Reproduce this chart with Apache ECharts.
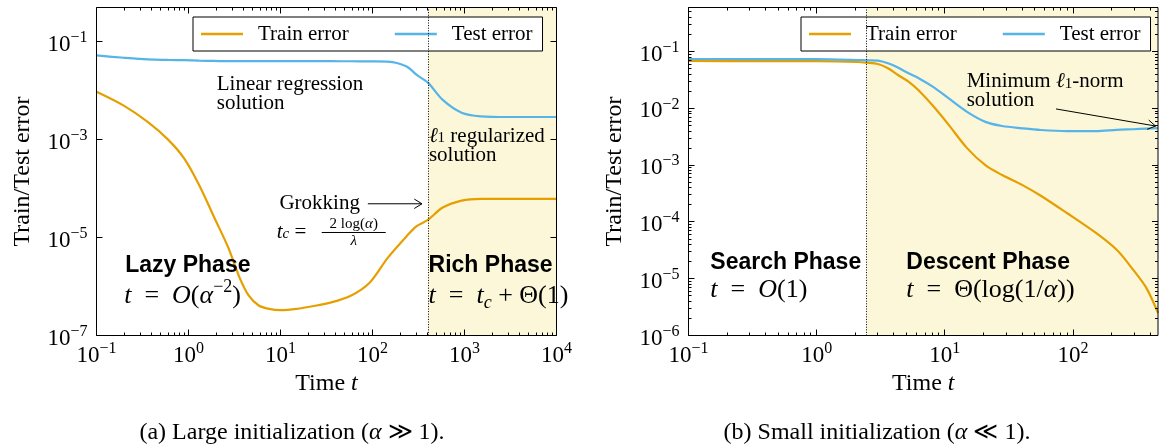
<!DOCTYPE html>
<html>
<head>
<meta charset="utf-8">
<script src="https://cdn.jsdelivr.net/npm/echarts@6/dist/echarts.min.js"></script>
<style>
  html, body { margin: 0; padding: 0; background: #fff; }
  #chart { width: 1161px; height: 444px; }
</style>
</head>
<body>
<div id="chart"></div>
<script>
// ---- (a) large initialization: time, train error, test error ----
const largeTime  = [0.1, 0.2, 0.36, 0.6, 0.9, 1.3, 1.9, 2.7, 3.6, 4.5, 5.8, 7.5, 10, 15, 23, 35, 58, 93, 147, 235, 300, 400, 580, 930, 1500, 3000, 10000];
const largeTrain = [9.5e-3, 4.9e-3, 2.3e-3, 1.0e-3, 4.1e-4, 1.2e-4, 2.6e-5, 6.3e-6, 1.5e-6, 6.6e-7, 4.1e-7, 3.5e-7, 3.3e-7, 3.5e-7, 4.0e-7, 4.7e-7, 6.5e-7, 1.2e-6, 3.9e-6, 1.07e-5, 1.7e-5, 2.3e-5, 4.1e-5, 5.7e-5, 6.2e-5, 6.2e-5, 6.2e-5];
const largeTest  = [0.0525, 0.047, 0.0435, 0.0425, 0.042, 0.041, 0.0405, 0.040, 0.040, 0.040, 0.040, 0.040, 0.040, 0.040, 0.040, 0.040, 0.0399, 0.0397, 0.0394, 0.0313, 0.0212, 0.0146, 0.0065, 0.00356, 0.0030, 0.0029, 0.0029];

// ---- (b) small initialization ----
const smallTime  = [0.1, 0.3, 1, 2.1, 2.44, 3.0, 3.6, 4.3, 5.2, 6.2, 8.1, 10.6, 14.9, 20.7, 28, 40, 56, 89.5, 151, 220, 295, 373, 460];
const smallTrain = [0.0685, 0.0683, 0.068, 0.0658, 0.064, 0.0607, 0.051, 0.0388, 0.0296, 0.0211, 0.011, 0.0053, 0.002, 1.0e-3, 6.7e-4, 4.5e-4, 2.9e-4, 1.44e-4, 6.4e-5, 3.2e-5, 1.43e-5, 6.9e-6, 2.5e-6];
const smallTest  = [0.0743, 0.0742, 0.0738, 0.0714, 0.0705, 0.0694, 0.0624, 0.0526, 0.0416, 0.0344, 0.0239, 0.0153, 0.0087, 0.0058, 0.0049, 0.00447, 0.00417, 0.0040, 0.0040, 0.0042, 0.0043, 0.0044, 0.0045];

const seriesNames = ['Train error', 'Test error'];
const seriesColors = ['#E69F00', '#56B4E9'];

// axis extents [min, max] for each panel
const largeXRange = [0.1, 1e4];
const largeYRange = [1e-7, 0.5];
const smallXRange = [0.1, 460];
const smallYRange = [1e-6, 0.6];

// phase boundary (start of shaded region) for each panel
const phaseStart = [402, 2.44];

// decade exponents carrying a major tick
const largeXMajor = [-1, 0, 1, 2, 3, 4];
const largeYMajor = [-7, -5, -3, -1];
const smallXMajor = [-1, 0, 1, 2];
const smallYMajor = [-6, -5, -4, -3, -2, -1];
const minorMultipliers = [2, 3, 4, 5, 6, 7, 8, 9];

const captions = ['(a) Large initialization ({i|α} ≫ 1).', '(b) Small initialization ({i|α} ≪ 1).'];

const SERIF = '"Liberation Serif", "Times New Roman", serif';
const SANS = '"Liberation Sans", Arial, sans-serif';
const SHADE = '#FBF7D8';
const EQ = '\u2002=\u2002';

const pairs = (xs, ys) => xs.map((x, i) => [x, ys[i]]);

// math-style rich text tokens for a given base size
function mathRich(size) {
  const lh = Math.round(size * 1.3);
  return {
    r:   { fontFamily: SERIF, fontSize: size, lineHeight: lh, verticalAlign: 'middle', fill: '#000', color: '#000' },
    i:   { fontFamily: SERIF, fontStyle: 'italic', fontSize: size, lineHeight: lh, verticalAlign: 'middle', fill: '#000', color: '#000' },
    sup: { fontFamily: SERIF, fontSize: Math.round(size * 0.7), lineHeight: Math.round(size * 0.6), verticalAlign: 'top', fill: '#000', color: '#000' },
    sub: { fontFamily: SERIF, fontStyle: 'italic', fontSize: Math.round(size * 0.7), lineHeight: Math.round(size * 0.85), verticalAlign: 'bottom', fill: '#000', color: '#000' },
    subr:{ fontFamily: SERIF, fontSize: Math.round(size * 0.7), lineHeight: Math.round(size * 0.85), verticalAlign: 'bottom', fill: '#000', color: '#000' }
  };
}

// 10^k tick labels; other ticks stay blank
function powerLabel(keep) {
  return function (v) {
    const e = Math.log10(v), k = Math.round(e);
    if (Math.abs(e - k) > 1e-6 || !keep(k)) return '';
    return '{b|10}{s|' + (k < 0 ? '\u2212' + (-k) : String(k)) + '}';
  };
}
const tickLabelRich = {
  b: { fontFamily: SERIF, fontSize: 23, lineHeight: 30, verticalAlign: 'middle', color: '#000' },
  s: { fontFamily: SERIF, fontSize: 16, lineHeight: 14, verticalAlign: 'top', color: '#000' }
};

function xAxisFor(grid, range) {
  return {
    type: 'log', logBase: 10, gridIndex: grid, min: range[0], max: range[1],
    axisLine: { show: false }, axisTick: { show: false }, splitLine: { show: false },
    axisLabel: { formatter: powerLabel(() => true), rich: tickLabelRich, margin: 5, color: '#000' },
    name: 'Time {i|t}', nameLocation: 'middle', nameGap: 33,
    nameTextStyle: { fontFamily: SERIF, fontSize: 24, color: '#000',
      rich: { i: { fontFamily: SERIF, fontStyle: 'italic', fontSize: 24, color: '#000' } } }
  };
}
function yAxisFor(grid, range, keep) {
  return {
    type: 'log', logBase: 10, gridIndex: grid, min: range[0], max: range[1],
    axisLine: { show: false }, axisTick: { show: false }, splitLine: { show: false },
    axisLabel: { formatter: powerLabel(keep), rich: tickLabelRich, margin: 9, color: '#000', padding: [6, 0, 0, 0] },
    name: 'Train/Test error', nameLocation: 'middle', nameGap: 62,
    nameTextStyle: { fontFamily: SERIF, fontSize: 24, color: '#000' }
  };
}

// tick marks drawn inward on all four sides of a panel
function tickData(xMajor, yMajor, xRange, yRange, yMinor) {
  const data = [];
  const inRange = (v, r) => v >= r[0] * 0.999 && v <= r[1] * 1.001;
  xMajor.forEach(k => {
    const v = Math.pow(10, k);
    if (inRange(v, xRange)) data.push([v, yRange[0], 0, 6]);
    minorMultipliers.forEach(m => { const w = m * v; if (inRange(w, xRange)) data.push([w, yRange[0], 0, 3]); });
  });
  yMajor.forEach(k => {
    const v = Math.pow(10, k);
    if (inRange(v, yRange)) data.push([xRange[0], v, 1, 6]);
    if (yMinor) minorMultipliers.forEach(m => { const w = m * v; if (inRange(w, yRange)) data.push([xRange[0], w, 1, 3]); });
  });
  return data;
}
function renderTick(params, api) {
  const cs = params.coordSys;
  const p = api.coord([api.value(0), api.value(1)]);
  const len = api.value(3);
  const style = { stroke: '#000', lineWidth: 1 };
  if (api.value(2) === 0) {
    const x = Math.floor(p[0]) + 0.5, yb = cs.y + cs.height, yt = cs.y;
    return { type: 'group', children: [
      { type: 'line', shape: { x1: x, y1: yb, x2: x, y2: yb - len }, style },
      { type: 'line', shape: { x1: x, y1: yt, x2: x, y2: yt + len }, style } ] };
  }
  const y = Math.floor(p[1]) + 0.5, xl = cs.x, xr = cs.x + cs.width;
  return { type: 'group', children: [
    { type: 'line', shape: { x1: xl, y1: y, x2: xl + len, y2: y }, style },
    { type: 'line', shape: { x1: xr, y1: y, x2: xr - len, y2: y }, style } ] };
}

function lineSeries(grid, idx, xs, ys, extra) {
  return Object.assign({
    name: seriesNames[idx], type: 'line', xAxisIndex: grid, yAxisIndex: grid,
    data: pairs(xs, ys), symbol: 'none', showSymbol: false,
    smooth: 0.3, z: 3 + idx,
    lineStyle: { color: seriesColors[idx], width: 2.2 },
    itemStyle: { color: seriesColors[idx] }
  }, extra || {});
}
function phaseMarks(grid, xMax) {
  return {
    markArea: { silent: true, itemStyle: { color: SHADE }, data: [[{ xAxis: phaseStart[grid] }, { xAxis: xMax }]] },
    markLine: { silent: true, symbol: 'none', label: { show: false },
      lineStyle: { color: '#000', width: 1, type: [1, 1.6] }, data: [{ xAxis: phaseStart[grid] }] }
  };
}

function legendAt(left) {
  return {
    left: left, top: 17, orient: 'horizontal', selectedMode: false,
    data: seriesNames, icon: 'rect', itemWidth: 42, itemHeight: 2.5, itemGap: 46,
    padding: [6, 10, 6, 8], borderColor: '#000', borderWidth: 1, borderRadius: 0,
    backgroundColor: '#fff',
    textStyle: { fontFamily: SERIF, fontSize: 21, lineHeight: 22, color: '#000', padding: [0, 0, 0, 10] }
  };
}

const chart = echarts.init(document.getElementById('chart'), null, { renderer: 'canvas' });
chart.setOption({
  animation: false,
  backgroundColor: '#fff',
  grid: [
    { left: 96.5, top: 7.5, width: 460, height: 328, show: true, borderColor: '#000', borderWidth: 1, backgroundColor: 'transparent', z: 10 },
    { left: 688.5, top: 7.5, width: 473, height: 328, show: true, borderColor: '#000', borderWidth: 1, backgroundColor: 'transparent', z: 10 }
  ],
  legend: [legendAt(193), legendAt(801)],
  xAxis: [xAxisFor(0, largeXRange), xAxisFor(1, smallXRange)],
  yAxis: [yAxisFor(0, largeYRange, k => Math.abs(k) % 2 === 1), yAxisFor(1, smallYRange, () => true)],
  series: [
    lineSeries(0, 0, largeTime, largeTrain, phaseMarks(0, largeXRange[1])),
    lineSeries(0, 1, largeTime, largeTest),
    lineSeries(1, 0, smallTime, smallTrain, phaseMarks(1, smallXRange[1])),
    lineSeries(1, 1, smallTime, smallTest),
    { type: 'custom', coordinateSystem: 'cartesian2d', xAxisIndex: 0, yAxisIndex: 0, silent: true, clip: false, z: 11,
      encode: { x: 0, y: 1 }, data: tickData(largeXMajor, largeYMajor, largeXRange, largeYRange, false), renderItem: renderTick },
    { type: 'custom', coordinateSystem: 'cartesian2d', xAxisIndex: 1, yAxisIndex: 1, silent: true, clip: false, z: 11,
      encode: { x: 0, y: 1 }, data: tickData(smallXMajor, smallYMajor, smallXRange, smallYRange, true), renderItem: renderTick }
  ]
});

// ---- annotations, anchored in data coordinates ----
const px = (grid, t, e) => chart.convertToPixel({ gridIndex: grid }, [t, e]);

function label(p, text, opts) {
  const o = opts || {};
  return {
    type: 'text', x: p[0], y: p[1], z: 20, silent: true,
    style: {
      text: text, rich: o.rich, fill: '#000',
      font: o.font || ('21px ' + SERIF), lineHeight: o.lineHeight,
      align: o.align || 'left', textAlign: o.align || 'left',
      verticalAlign: o.valign || 'middle', textVerticalAlign: o.valign || 'middle'
    }
  };
}
function arrow(p1, p2) {
  const ang = Math.atan2(p2[1] - p1[1], p2[0] - p1[0]);
  const L = 9, a = 0.55;
  const h1 = [p2[0] - L * Math.cos(ang - a), p2[1] - L * Math.sin(ang - a)];
  const h2 = [p2[0] - L * Math.cos(ang + a), p2[1] - L * Math.sin(ang + a)];
  const style = { stroke: '#000', lineWidth: 1, fill: null };
  return [
    { type: 'line', z: 20, silent: true, shape: { x1: p1[0], y1: p1[1], x2: p2[0], y2: p2[1] }, style },
    { type: 'polyline', z: 20, silent: true, shape: { points: [h1, p2, h2] }, style }
  ];
}

const note = mathRich(21);
note.r.lineHeight = 19; note.i.lineHeight = 19; note.sub.lineHeight = 11; note.subr.lineHeight = 11;
const big = mathRich(26);
const small = mathRich(15);
const boldFont = 'bold 23px ' + SANS;

const g = [];
// (a) large initialization
g.push(label(px(0, 2.03, 0.0205), 'Linear regression\nsolution', { valign: 'top', lineHeight: 19 }));
g.push(label(px(0, 410, 1.81e-3), '{i|ℓ}{subr|1}{r| regularized}\n{r|solution}', { rich: note, valign: 'top' }));
g.push(label(px(0, 73, 4.95e-5), 'Grokking', { align: 'right' }));
g.push(...arrow(px(0, 89, 4.9e-5), px(0, 345, 4.9e-5)));
const tc = px(0, 9.1, 1.3e-5);
g.push(label(tc, '{i|t}{sub|c}{r| =}', { rich: note }));
g.push(label([tc[0] + 77, tc[1] - 8], '{r|2 log(}{i|α}{r|)}', { rich: small, align: 'center' }));
g.push({ type: 'line', z: 20, silent: true, shape: { x1: tc[0] + 45, y1: tc[1] + 0.5, x2: tc[0] + 109, y2: tc[1] + 0.5 }, style: { stroke: '#000', lineWidth: 1 } });
g.push(label([tc[0] + 77, tc[1] + 9], '{i|λ}', { rich: small, align: 'center' }));
g.push(label(px(0, 0.205, 2.62e-6), 'Lazy Phase', { font: boldFont }));
g.push(label(px(0, 0.2, 6.5e-7), '{i|t}{r|' + EQ + '}{i|O}{r|(}{i|α}{sup|\u22122}{r|)}', { rich: big }));
g.push(label(px(0, 407, 2.62e-6), 'Rich Phase', { font: boldFont }));
g.push(label(px(0, 407, 6.5e-7), '{i|t}{r|' + EQ + '}{i|t}{sub|c}{r| + Θ(1)}', { rich: big }));

// (b) small initialization
g.push(label(px(1, 14.8, 0.043), '{r|Minimum }{i|ℓ}{subr|1}{r|-norm}\n{r|solution}', { rich: note, valign: 'top' }));
g.push(...arrow(px(1, 73.6, 9.8e-3), px(1, 440, 4.9e-3)));
g.push(label(px(1, 0.148, 1.93e-5), 'Search Phase', { font: boldFont }));
g.push(label(px(1, 0.148, 6.3e-6), '{i|t}{r|' + EQ + '}{i|O}{r|(1)}', { rich: big }));
g.push(label(px(1, 5.0, 1.93e-5), 'Descent Phase', { font: boldFont }));
g.push(label(px(1, 5.0, 6.3e-6), '{i|t}{r|' + EQ + 'Θ(log(1/}{i|α}{r|))}', { rich: big }));

// sub-figure captions
const capRich = { r: { fontFamily: SERIF, fontSize: 24, fill: '#000' }, i: { fontFamily: SERIF, fontStyle: 'italic', fontSize: 24, fill: '#000' } };
g.push(label([292, 433], captions[0], { rich: capRich, align: 'center', font: '24px ' + SERIF }));
g.push(label([877, 433], captions[1], { rich: capRich, align: 'center', font: '24px ' + SERIF }));

chart.setOption({ graphic: { elements: g } });
</script>
</body>
</html>
